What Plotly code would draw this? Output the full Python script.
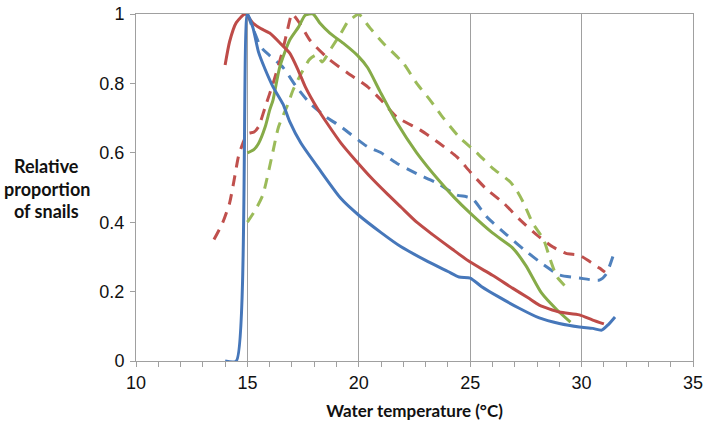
import plotly.graph_objects as go

# ---- data ----
blue_solid_x = [14, 14.5, 15, 15.25, 15.5, 15.8, 16.15, 16.6, 16.9, 17.4, 18.2, 19.2, 20, 21, 21.9,
                23, 24, 24.5, 25, 25.5, 26.3, 27.2, 28.1, 29, 29.9, 30.5, 30.9, 31.2, 31.5]
blue_solid_y = [0, 0, 1.0, 0.96, 0.89, 0.84, 0.79, 0.74, 0.69, 0.628, 0.555, 0.468, 0.42, 0.37, 0.329,
                0.29, 0.258, 0.242, 0.239, 0.215, 0.184, 0.152, 0.124, 0.108, 0.098, 0.094, 0.089, 0.105, 0.127]

red_solid_x = [14, 14.2, 14.5, 14.9, 15.25, 15.6, 16, 16.5, 16.9, 17.3, 17.6, 18.1, 18.6, 19.2, 19.9,
               20.6, 21.3, 21.9, 22.6, 23.3, 24.2, 25, 26, 26.9, 27.6, 28.1, 29, 29.9, 30.5, 31]
red_solid_y = [0.853, 0.92, 0.975, 1.0, 0.974, 0.958, 0.945, 0.914, 0.887, 0.835, 0.79, 0.732, 0.683, 0.628, 0.575,
               0.525, 0.48, 0.443, 0.40, 0.365, 0.322, 0.285, 0.247, 0.21, 0.182, 0.161, 0.141, 0.133, 0.118, 0.107]

green_solid_x = [15, 15.3, 15.5, 15.8, 16.0, 16.15, 16.45, 16.9, 17.3, 17.6, 17.95, 18.25, 18.7, 19.3, 19.95,
                 20.4, 20.95, 21.7, 22.6, 23.6, 24.3, 25, 26, 26.9, 27.5, 28.2, 28.9, 29.5]
green_solid_y = [0.60, 0.61, 0.627, 0.675, 0.723, 0.752, 0.847, 0.925, 0.963, 0.997, 1.0, 0.974, 0.945, 0.916, 0.88,
                 0.845, 0.777, 0.688, 0.60, 0.52, 0.47, 0.426, 0.369, 0.326, 0.275, 0.196, 0.147, 0.112]

blue_dash_x = [15, 15.3, 15.6, 16.0, 16.6, 17.2, 17.8, 18.5, 19.2, 20.4, 21.0, 21.7, 22.6, 23.5, 24.4, 24.8,
               25.1, 25.75, 26.65, 27.55, 28.3, 29.0, 29.9, 30.8, 31.1, 31.5]
blue_dash_y = [1.0, 0.95, 0.905, 0.88, 0.846, 0.79, 0.743, 0.705, 0.675, 0.617, 0.60, 0.57, 0.54, 0.513, 0.478, 0.474,
               0.468, 0.415, 0.363, 0.314, 0.277, 0.248, 0.239, 0.233, 0.25, 0.32]

red_dash_x = [13.5, 13.9, 14.2, 14.4, 14.6, 14.8, 15.0, 15.3, 15.5, 15.8, 16.2, 16.55, 16.8, 17.0, 17.35, 17.8,
              18.6, 19.5, 20.4, 21.0, 21.7, 22.75, 23.6, 24.4, 25.0, 25.7, 26.5, 27.25, 28.0, 28.7, 29.3, 29.9,
              30.4, 30.8, 31.05]
red_dash_y = [0.35, 0.40, 0.455, 0.52, 0.59, 0.628, 0.655, 0.66, 0.675, 0.732, 0.81, 0.887, 0.954, 1.0, 0.973, 0.925,
              0.873, 0.83, 0.79, 0.752, 0.703, 0.666, 0.628, 0.588, 0.545, 0.497, 0.455, 0.406, 0.363, 0.329, 0.31, 0.305,
              0.285, 0.268, 0.256]

green_dash_x = [15.0, 15.4, 15.7, 16.1, 16.4, 16.8, 17.05, 17.45, 17.8, 18.1, 18.35, 18.8, 19.2, 19.5, 19.9, 20.0,
                20.5, 21.1, 22.0, 22.6, 23.2, 23.8, 24.5, 25.3, 26.0, 26.8, 27.1, 27.4, 27.8, 28.3, 28.6, 28.9, 29.35]
green_dash_y = [0.40, 0.44, 0.48, 0.59, 0.675, 0.737, 0.781, 0.833, 0.87, 0.882, 0.862, 0.905, 0.945, 0.977, 0.997, 1.0,
                0.96, 0.916, 0.858, 0.80, 0.752, 0.70, 0.646, 0.60, 0.556, 0.516, 0.49, 0.455, 0.398, 0.349, 0.291, 0.242, 0.21]

x_ticks = [10, 15, 20, 25, 30, 35]
x_tick_labels = ["10", "15", "20", "25", "30", "35"]
y_ticks = [0, 0.2, 0.4, 0.6, 0.8, 1.0]
y_tick_labels = ["0", "0.2", "0.4", "0.6", "0.8", "1"]
y_title_lines = ["Relative", "proportion", "of snails"]

series = [
    (blue_dash_x, blue_dash_y, "#4F81BD", "11px,8px"),
    (red_dash_x, red_dash_y, "#C0504D", "11px,8px"),
    (green_dash_x, green_dash_y, "#9BBB59", "11px,8px"),
    (green_solid_x, green_solid_y, "#86AB48", "solid"),
    (red_solid_x, red_solid_y, "#BE4B48", "solid"),
    (blue_solid_x, blue_solid_y, "#4677BA", "solid"),
]

fig = go.Figure()
for xs, ys, col, dash in series:
    fig.add_trace(go.Scatter(
        x=xs, y=ys, mode="lines",
        line=dict(color=col, width=3, dash=dash, shape="spline", smoothing=0.6),
        showlegend=False, hoverinfo="skip",
    ))

# y-axis title: three centred bold lines at the left of the plot
title_font = dict(family="Lato, Liberation Sans", size=18, color="#111111")
annots = []
for i, line in enumerate(y_title_lines):
    annots.append(dict(
        text="<b>" + line + "</b>", xref="paper", yref="paper",
        x=-0.16, y=0.562 - 0.065 * i, xanchor="center", yanchor="middle",
        showarrow=False, font=title_font,
    ))

axis_col = "#A0A0A0"
fig.update_layout(
    width=710, height=425,
    margin=dict(l=136, r=17, t=14, b=64),
    paper_bgcolor="white", plot_bgcolor="white",
    font=dict(family="Liberation Sans, Arial", size=18, color="#111111"),
    xaxis=dict(
        range=[10, 35], tickvals=x_ticks, ticktext=x_tick_labels,
        automargin=False, ticklabeloverflow="allow",
        showgrid=True, gridcolor=axis_col, gridwidth=1,
        showline=True, linecolor=axis_col, linewidth=1, mirror=True,
        ticks="outside", ticklen=5, tickcolor=axis_col,
        minor=dict(dtick=1, ticks="outside", ticklen=5, tickcolor=axis_col, showgrid=False),
        zeroline=False,
        title=dict(text="<b>Water temperature (°C)</b>",
                   font=dict(family="Lato, Liberation Sans", size=17, color="#111111"),
                   standoff=13),
    ),
    yaxis=dict(
        range=[0, 1], tickvals=y_ticks, ticktext=y_tick_labels,
        automargin=False, ticklabeloverflow="allow",
        showgrid=False,
        showline=True, linecolor=axis_col, linewidth=1, mirror=True,
        ticks="outside", ticklen=5, tickcolor=axis_col, ticklabelstandoff=2,
        zeroline=False,
    ),
    annotations=annots,
)

fig.write_html("out.html", config={"displayModeBar": False},
               post_script="document.body.style.margin='0';")
